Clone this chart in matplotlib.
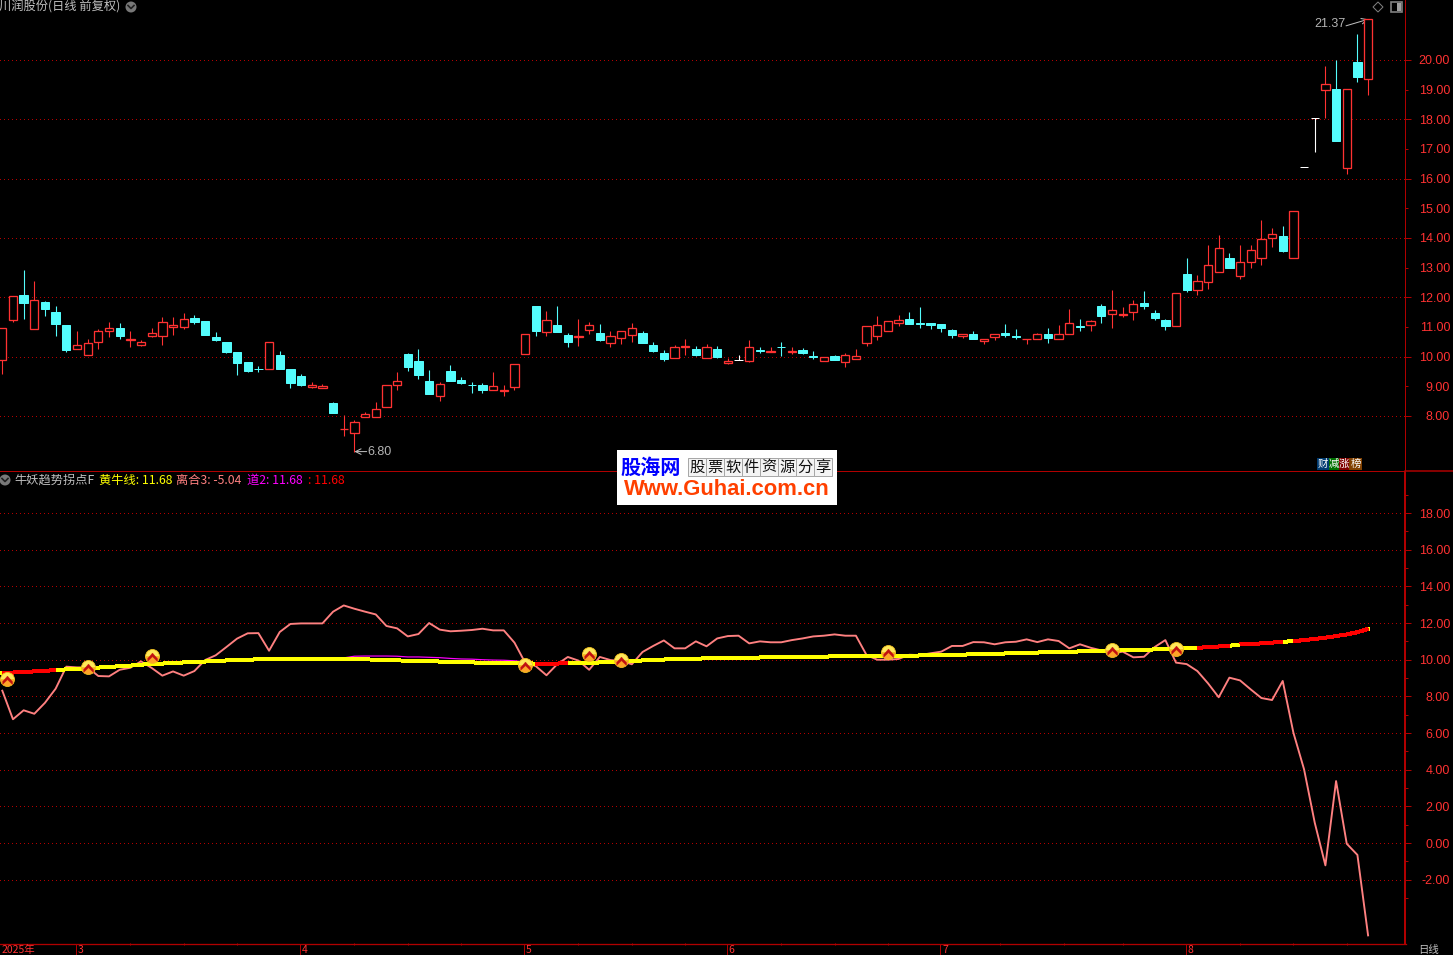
#!/usr/bin/env python3

import matplotlib

matplotlib.use("Agg")

import numpy as np
from matplotlib import pyplot as plt
from matplotlib.patches import Rectangle, Polygon, Circle

plt.rcParams["font.family"] = ["Noto Sans CJK SC", "DejaVu Sans"]

W, H = 1453, 955

# candles
opens = [9.88, 11.22, 12.07, 10.94, 11.83, 11.50, 11.08, 10.25, 10.07, 10.48,
         10.87, 10.96, 10.57, 10.40, 10.70, 10.70, 11.00, 11.00, 11.30, 11.19,
         10.66, 10.49, 10.16, 9.82, 9.59, 9.60, 10.06, 9.59, 9.35, 8.99,
         8.94, 8.45, 7.55, 7.42, 7.96, 7.96, 8.29, 9.03, 10.09, 9.85,
         9.18, 8.69, 9.52, 9.22, 9.06, 9.03, 8.87, 8.83, 8.97, 10.09,
         11.71, 10.84, 11.06, 10.72, 10.65, 10.90, 10.79, 10.46, 10.63, 10.73,
         10.79, 10.38, 10.11, 9.95, 10.33, 10.25, 9.95, 10.25, 9.79, 9.90,
         9.85, 10.22, 10.17, 10.33, 10.17, 10.21, 10.01, 9.85, 10.01, 9.82,
         9.92, 10.46, 10.70, 10.87, 11.15, 11.27, 11.15, 11.13, 11.10, 10.89,
         10.68, 10.75, 10.54, 10.67, 10.79, 10.70, 10.58, 10.58, 10.76, 10.58,
         10.77, 11.03, 11.05, 11.71, 11.45, 11.39, 11.49, 11.81, 11.47, 11.23,
         11.04, 12.79, 12.23, 12.53, 12.84, 13.33, 12.73, 13.18, 13.34, 14.00,
         14.05, 13.31, 16.38, 18.03, 18.98, 19.03, 16.37, 19.94, 19.36]
highs = [10.95, 12.05, 12.93, 12.56, 11.86, 11.72, 11.08, 10.86, 10.59, 10.93,
         11.16, 11.13, 10.86, 10.56, 10.95, 11.33, 11.33, 11.46, 11.40, 11.19,
         10.83, 10.49, 10.16, 9.82, 9.69, 10.51, 10.19, 9.59, 9.42, 9.15,
         9.08, 8.48, 8.04, 7.88, 8.15, 8.48, 9.04, 9.49, 10.12, 10.26,
         9.55, 9.15, 9.72, 9.32, 9.15, 9.12, 9.47, 9.03, 9.76, 10.75,
         11.71, 11.54, 11.71, 10.79, 11.27, 11.16, 11.10, 10.86, 10.85, 11.13,
         10.86, 10.49, 10.21, 10.38, 10.59, 10.35, 10.42, 10.35, 9.97, 10.07,
         10.55, 10.32, 10.32, 10.49, 10.32, 10.28, 10.18, 10.00, 10.05, 10.11,
         10.25, 11.02, 11.37, 11.19, 11.40, 11.50, 11.67, 11.13, 11.10, 10.93,
         10.76, 10.88, 10.61, 10.78, 11.10, 10.93, 10.61, 10.79, 10.96, 11.06,
         11.60, 11.27, 11.23, 11.77, 12.25, 11.67, 11.91, 12.21, 11.57, 11.27,
         12.14, 13.33, 12.76, 13.77, 14.11, 13.50, 13.77, 13.77, 14.59, 14.32,
         14.42, 14.92, 16.38, 18.03, 19.81, 20.00, 19.03, 20.89, 21.37]
lows = [9.43, 11.17, 11.27, 10.94, 11.37, 10.69, 10.17, 10.25, 10.07, 10.27,
        10.66, 10.60, 10.32, 10.36, 10.66, 10.39, 10.73, 10.93, 11.11, 10.73,
        10.52, 10.12, 9.39, 9.49, 9.49, 9.60, 9.59, 8.95, 9.02, 8.95,
        8.94, 8.11, 7.31, 6.80, 7.96, 7.96, 8.29, 8.88, 9.52, 9.25,
        8.75, 8.51, 9.18, 9.08, 8.78, 8.76, 8.87, 8.69, 8.86, 10.09,
        10.69, 10.69, 10.82, 10.32, 10.35, 10.76, 10.52, 10.32, 10.42, 10.49,
        10.45, 10.15, 9.84, 9.95, 10.05, 10.01, 9.95, 9.94, 9.75, 9.90,
        9.82, 10.11, 10.16, 10.01, 10.09, 10.08, 9.91, 9.85, 9.88, 9.64,
        9.92, 10.35, 10.55, 10.87, 11.03, 11.10, 10.96, 10.93, 10.82, 10.62,
        10.63, 10.59, 10.42, 10.55, 10.66, 10.59, 10.42, 10.58, 10.45, 10.58,
        10.77, 10.86, 10.86, 11.13, 10.96, 11.34, 11.23, 11.60, 11.23, 10.89,
        11.04, 12.18, 12.08, 12.28, 12.84, 12.99, 12.63, 12.99, 13.10, 13.71,
        13.54, 13.31, 16.38, 16.90, 18.03, 17.28, 16.16, 19.24, 18.82]
closes = [10.95, 12.05, 11.81, 11.92, 11.61, 11.11, 10.23, 10.38, 10.45, 10.85,
          10.95, 10.69, 10.61, 10.48, 10.81, 11.18, 11.08, 11.28, 11.16, 10.73,
          10.56, 10.16, 9.79, 9.52, 9.57, 10.51, 9.59, 9.12, 9.05, 9.04,
          9.01, 8.11, 7.57, 7.80, 8.07, 8.23, 9.04, 9.17, 9.65, 9.39,
          8.75, 9.07, 9.18, 9.12, 9.04, 8.86, 9.02, 8.86, 9.76, 10.75,
          10.86, 11.22, 10.82, 10.49, 10.69, 11.08, 10.55, 10.71, 10.85, 10.98,
          10.45, 10.18, 9.91, 10.31, 10.37, 10.05, 10.34, 9.98, 9.86, 9.90,
          10.31, 10.20, 10.19, 10.31, 10.19, 10.11, 9.99, 10.00, 9.88, 10.05,
          10.03, 11.02, 11.05, 11.19, 11.25, 11.10, 11.11, 11.06, 10.96, 10.72,
          10.75, 10.59, 10.61, 10.78, 10.72, 10.66, 10.60, 10.75, 10.62, 10.75,
          11.15, 11.01, 11.19, 11.37, 11.56, 11.44, 11.76, 11.71, 11.30, 11.03,
          12.14, 12.25, 12.54, 13.08, 13.66, 12.99, 13.19, 13.59, 13.97, 14.14,
          13.57, 14.92, 16.38, 18.03, 19.18, 17.28, 19.03, 19.44, 21.37]

# indicator lines
lihe3 = [8.31, 6.75, 7.24, 7.05, 7.65, 8.42, 9.62, 9.58, 9.58, 9.11,
         9.09, 9.45, 9.56, 9.91, 9.55, 9.13, 9.36, 9.13, 9.38, 9.98,
         10.24, 10.69, 11.15, 11.44, 11.45, 10.49, 11.51, 11.95, 11.98, 11.98,
         11.98, 12.62, 12.96, 12.78, 12.62, 12.47, 11.84, 11.71, 11.27, 11.40,
         12.00, 11.64, 11.55, 11.58, 11.62, 11.69, 11.60, 11.60, 10.93, 9.84,
         9.65, 9.15, 9.75, 10.15, 9.95, 9.45, 10.15, 9.98, 9.93, 9.75,
         10.42, 10.75, 11.05, 10.62, 10.62, 11.00, 10.73, 11.16, 11.29, 11.31,
         10.89, 11.00, 10.95, 10.95, 11.07, 11.16, 11.27, 11.31, 11.38, 11.31,
         11.31, 10.25, 10.00, 10.00, 10.04, 10.27, 10.25, 10.35, 10.44, 10.75,
         10.75, 10.96, 10.95, 10.84, 10.95, 10.98, 11.11, 10.96, 11.11, 11.02,
         10.62, 10.84, 10.65, 10.51, 10.33, 10.44, 10.13, 10.16, 10.69, 11.07,
         9.84, 9.76, 9.38, 8.71, 7.95, 9.02, 8.87, 8.38, 7.91, 7.80,
         8.84, 6.02, 4.02, 1.11, -1.22, 3.38, -0.04, -0.65, -5.04]
bull = [9.27, 9.30, 9.33, 9.36, 9.39, 9.44, 9.47, 9.50, 9.54, 9.57,
        9.61, 9.64, 9.68, 9.73, 9.76, 9.79, 9.82, 9.85, 9.88, 9.90,
        9.93, 9.96, 9.98, 10.00, 10.02, 10.03, 10.05, 10.06, 10.06, 10.06,
        10.06, 10.05, 10.05, 10.04, 10.02, 10.00, 9.98, 9.96, 9.95, 9.93,
        9.92, 9.90, 9.89, 9.87, 9.85, 9.84, 9.83, 9.82, 9.81, 9.80,
        9.79, 9.78, 9.79, 9.81, 9.82, 9.83, 9.85, 9.87, 9.90, 9.93,
        9.96, 9.99, 10.01, 10.03, 10.05, 10.06, 10.07, 10.08, 10.09, 10.10,
        10.11, 10.12, 10.13, 10.14, 10.15, 10.16, 10.16, 10.17, 10.18, 10.18,
        10.19, 10.19, 10.20, 10.20, 10.21, 10.22, 10.23, 10.24, 10.25, 10.27,
        10.28, 10.29, 10.31, 10.32, 10.34, 10.36, 10.37, 10.39, 10.41, 10.42,
        10.44, 10.45, 10.47, 10.48, 10.50, 10.51, 10.52, 10.54, 10.56, 10.58,
        10.60, 10.63, 10.65, 10.68, 10.72, 10.76, 10.83, 10.86, 10.89, 10.93,
        10.98, 11.01, 11.07, 11.13, 11.20, 11.29, 11.38, 11.50, 11.68]
bull_red_runs = [(0, 5), (50, 53), (112, 115), (116, 120), (121, 128)]

dao2_days = list(range(32, 50))
dao2 = [10.10, 10.19, 10.20, 10.20, 10.20, 10.19, 10.15, 10.15, 10.13,
        10.11, 10.07, 10.04, 10.03, 10.00, 9.98, 9.97, 9.94, 9.88]

signal_days = [0.44, 8, 14, 49, 55, 58, 83, 104, 110]
signal_vals = [8.95, 9.60, 10.20, 9.71, 10.31, 9.98, 10.42, 10.53, 10.58]

month_days = [7, 28, 49, 68, 88, 111]
month_names = ["3", "4", "5", "6", "7", "8"]
week_days = [12, 17, 22, 33, 38, 43, 54, 59, 64, 73, 78, 83, 93.5, 99.5, 105, 116, 121, 126]

price_even = [8, 10, 12, 14, 16, 18, 20]
price_odd = [9, 11, 13, 15, 17, 19]
ind_even = [-2, 0, 2, 4, 6, 8, 10, 12, 14, 16, 18]
ind_odd = [-3, -1, 1, 3, 5, 7, 9, 11, 13, 15, 17, 19]

RED = "#ff3232"
CYAN = "#54fcfc"
AXIS = "#b00000"
GRID = "#b40000"
PX = 0.72  # one pixel in points at dpi 100
TICK_FONT = "Liberation Sans"


def fx(x):
    return x / W


def fy(y):
    return 1 - y / H


def px_text(x, y, s, color="#c0c0c0", size=9, ha="left", **kwargs):
    return fig.text(fx(x), fy(y), s, color=color, fontsize=size, ha=ha, va="center", **kwargs)


def style_axis(ax, even, odd, odd_labels):
    ax.set_facecolor("black")
    ax.set_xlim(-0.2156, 131.46)
    ax.set_xticks([])
    for side in ["left", "top", "bottom"]:
        ax.spines[side].set_visible(False)
    ax.spines["right"].set_color(AXIS)
    ax.yaxis.tick_right()
    ax.set_yticks(even, ["%.2f" % v for v in even])
    ax.set_yticks(odd, ["%.2f" % v for v in odd] if odd_labels else [], minor=True)
    ax.tick_params(axis="y", which="major", length=6 * PX, width=PX, color=AXIS, pad=28.2,
                   labelcolor=RED, labelsize=9)
    ax.tick_params(axis="y", which="minor", length=3 * PX, width=PX, color=AXIS, pad=30.3,
                   labelcolor=RED, labelsize=9)
    for lab in ax.get_yticklabels() + ax.get_yticklabels(minor=True):
        lab.set_ha("right")
        lab.set_family(TICK_FONT)
    ax.grid(axis="y", which="major", color=GRID, linestyle=(0, (1, 3)), linewidth=PX, antialiased=False)
    ax.set_axisbelow(True)


fig = plt.figure(figsize=(W / 100, H / 100), dpi=100, facecolor="black")
ax1 = fig.add_axes([0, fy(471), fx(1405), 471 / H])
ax2 = fig.add_axes([0, fy(944), fx(1405), 472 / H])

ax1.set_ylim(6.146, 22.02)
ax2.set_ylim(-5.51, 20.24)
style_axis(ax1, price_even, price_odd, True)
style_axis(ax2, ind_even, ind_odd, False)
ax1.spines["right"].set_linewidth(PX)
ax2.spines["right"].set_linewidth(2 * PX)

# candles
days = np.arange(len(opens))
o = np.array(opens)
c = np.array(closes)
colors = np.where(c > o, RED, np.where(c < o, CYAN, "#ffffff"))
ax1.vlines(days, lows, highs, colors=colors, linewidth=1.1 * PX, zorder=3)
up = c > o
down = c < o
ax1.bar(days[up], (c - o)[up], bottom=o[up], width=0.78, facecolor="black", edgecolor=RED,
        linewidth=1.3 * PX, zorder=4)
ax1.bar(days[down], (o - c)[down], bottom=c[down], width=0.78, facecolor=CYAN, edgecolor=CYAN,
        linewidth=PX, zorder=4)
flat = c == o
ax1.hlines(c[flat], days[flat] - 0.39, days[flat] + 0.39, colors="#ffffff", linewidth=PX, zorder=4)

# high and low notes
ax1.annotate("", xy=(128, max(highs)), xytext=(1346 / 10.67 - 0.2156, 21.15),
             arrowprops=dict(arrowstyle="->", color="#c0c0c0", lw=PX, shrinkA=0, shrinkB=0))
px_text(1314, 24, "%.2f" % max(highs), color="#b4b4b4", size=9, family=TICK_FONT)
ax1.annotate("", xy=(33, min(lows)), xytext=(34.15, min(lows)),
             arrowprops=dict(arrowstyle="->", color="#c0c0c0", lw=PX, shrinkA=0, shrinkB=0))
px_text(367, 452, "%.2f" % min(lows), color="#b4b4b4", size=9, family=TICK_FONT)

# indicator panel
ax2.plot(dao2_days, dao2, color="#ff00ff", linewidth=1.2 * PX, zorder=3)
ax2.plot(days, lihe3, color="#ff8080", linewidth=1.9 * PX, zorder=4)
ax2.plot(days, bull, color="#ffff00", linewidth=3 * PX, antialiased=False, zorder=5)
for start, end in bull_red_runs:
    ax2.plot(days[start:end + 1], bull[start:end + 1], color="#ff0000", linewidth=3 * PX,
             antialiased=False, solid_capstyle="butt", zorder=6)

chevron = [(-0.62, -0.28), (0, 0.42), (0.62, -0.28), (0.62, -0.62), (0, -0.02), (-0.62, -0.62)]
ax2.plot(signal_days, signal_vals, linestyle="none", marker="o", markersize=14 * PX,
         fillstyle="bottom", markerfacecolor="#ffa428", markerfacecoloralt="#ffe85a",
         markeredgecolor="#f0c020", markeredgewidth=0.6, zorder=7, clip_on=False)
ax2.plot(signal_days, signal_vals, linestyle="none", marker=chevron, markersize=10 * PX,
         markerfacecolor="#c01010", markeredgecolor="#c01010", markeredgewidth=0.3, zorder=8)

# bottom date axis
line_y = fy(944)
fig.add_artist(plt.Line2D([0, fx(1406)], [line_y, line_y], color=AXIS, linewidth=1.3 * PX))
fig.add_artist(plt.Line2D([0, fx(1405)], [fy(471.5), fy(471.5)], color=AXIS, linewidth=PX))
fig.add_artist(plt.Line2D([fx(1405), 1], [fy(471.5), fy(471.5)], color=AXIS, linewidth=1.5 * PX))
ax2.set_xticks(np.array(month_days) - 0.1, [""] * len(month_days))
ax2.set_xticks(week_days, [""] * len(week_days), minor=True)
ax2.tick_params(axis="x", which="major", length=11 * PX, width=PX, color=AXIS)
ax2.tick_params(axis="x", which="minor", length=2 * PX, width=PX, color=AXIS, direction="inout")
month_y = 950
for d, name in zip(month_days, month_names):
    x_px = (d + 0.2156) * 10.67 + 1
    px_text(x_px, month_y, name, color=RED, size=7.5)
px_text(2, month_y, "2025年", color=RED, size=7.5)
px_text(1418, month_y, "日线", color="#c0c0c0", size=7.5)

# header text
px_text(-1, 7, "川润股份(日线 前复权)", size=8.8)
px_text(14, 480, "牛妖趋势拐点F", color="#c0c0c0", size=8.8)
px_text(99, 480, "黄牛线: 11.68", color="#ffff00", size=8.8)
px_text(176, 480, "离合3: -5.04", color="#ff8080", size=8.8)
px_text(247, 480, "道2: 11.68", color="#ff00ff", size=8.8)
px_text(308, 480, ": 11.68", color="#ff0000", size=8.8)

# small icons drawn in a pixel overlay
over = fig.add_axes([0, 0, 1, 1], facecolor="none", zorder=20)
over.set_xlim(0, W)
over.set_ylim(H, 0)
over.axis("off")
for cx, cy in [(131, 7), (5, 480)]:
    over.add_patch(Circle((cx, cy), 5.5, facecolor="#787878", edgecolor="none"))
    over.plot([cx - 3, cx, cx + 3], [cy - 1.5, cy + 1.5, cy - 1.5], color="#202020", linewidth=1.2)
over.add_patch(Polygon([(1378, 2), (1383, 7), (1378, 12), (1373, 7)], closed=True, facecolor="none",
                       edgecolor="#808080", linewidth=PX))
over.add_patch(Rectangle((1391, 2), 11, 10, facecolor="none", edgecolor="#808080", linewidth=1.2))
over.add_patch(Rectangle((1397, 3), 4, 8, facecolor="#a0a0a0", edgecolor="none"))

# site logo
over.add_patch(Rectangle((617, 450), 220, 55, facecolor="white", edgecolor="none"))
over.text(651, 467, "股海网", color="#0000ff", fontsize=14.5, fontweight="bold", ha="center", va="center")
slogan = "股票软件资源分享"
for k, ch in enumerate(slogan):
    over.add_patch(Rectangle((688 + 18 * k, 458), 18, 18, facecolor="#f4f4f4", edgecolor="#a8a8a8",
                             linewidth=PX))
    over.text(697 + 18 * k, 467, ch, color="#101010", fontsize=11, ha="center", va="center")
over.text(727, 489, "Www.Guhai.com.cn", color="#ff4000", fontsize=15.8, fontweight="bold",
          family="Liberation Sans", ha="center", va="center")

# tags
tag_edges = [1317, 1329, 1339, 1349, 1362]
tag_colors = ["#003a70", "#007000", "#800000", "#804000"]
for k, ch in enumerate("财减涨榜"):
    over.add_patch(Rectangle((tag_edges[k], 458), tag_edges[k + 1] - tag_edges[k], 12,
                             facecolor=tag_colors[k], edgecolor="none"))
    over.text((tag_edges[k] + tag_edges[k + 1]) / 2, 463.5, ch, color="white", fontsize=7.5,
              ha="center", va="center")

fig.savefig("out.png", dpi=100, facecolor="black")
